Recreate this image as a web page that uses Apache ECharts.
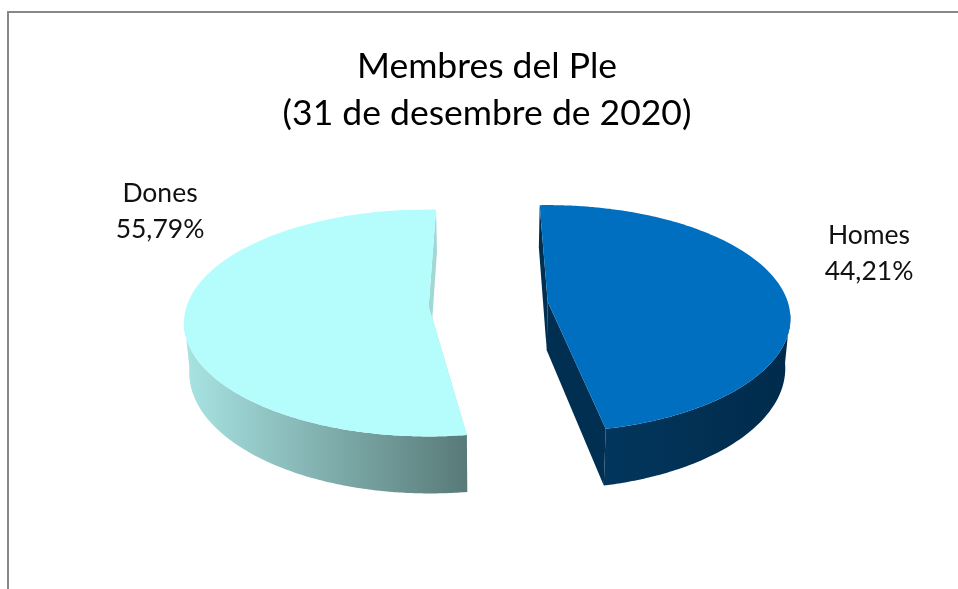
<!DOCTYPE html>
<html>
<head>
<meta charset="utf-8">
<style>html,body{margin:0;padding:0;background:#fff}#c{width:958px;height:589px}</style>
<script src="https://cdn.jsdelivr.net/npm/echarts@6/dist/echarts.min.js"></script>
</head>
<body>
<div id="c"></div>
<script>
const titleLines = ['Membres del Ple', '(31 de desembre de 2020)'];
const categories = ['Homes', 'Dones'];
const shareValues = [44.21, 55.79];
const shareLabels = ['44,21%', '55,79%'];

// Drawing style of each slice (3D look of the original)
const sliceStyle = [
  {apex: [547.7, 301.7], a: 240, tilt: -2.2, top: '#006fc0', cut: '#012f52', wall: ['#03365d', '#002b4b'], labelPos: [869, 253.5]},
  {apex: [428.7, 306], a: 242, tilt: 2, top: '#b5fdfd', cut: '#a0d8d6', wall: ['#a8e4e3', '#587a78'], labelPos: [160, 211]}
];
const proj = {b: 111, k: 0.149, depth: 48.5, squeeze: 0.45, vanishX: 490, shrink: 0.983};

function ring(theta, tilt) {
  // Warp of the angle around the pie caused by the original's 3D view
  let phi = Math.atan2(proj.squeeze * Math.sin(theta), Math.cos(theta));
  if (phi < -0.2) phi += 2 * Math.PI;
  if (theta > Math.PI * 1.9) phi = 2 * Math.PI;
  return phi + tilt * Math.PI / 180;
}
function project(st, u, v, lower) {
  const w = 1 - proj.k * v;
  let x = st.apex[0] + st.a * u / w;
  let y = st.apex[1] + proj.b * v / w;
  if (lower) {
    y += proj.depth / w;
    x = proj.vanishX + (x - proj.vanishX) * proj.shrink;
  }
  return [x, y];
}

function renderItem(params, api) {
  const i = params.dataIndex;
  const st = sliceStyle[i];
  const total = shareValues.reduce((s, d) => s + d, 0);
  let before = 0;
  for (let j = 0; j < i; j++) before += shareValues[j];
  const t0 = before / total * 2 * Math.PI;
  const t1 = t0 + api.value(0) / total * 2 * Math.PI;
  const steps = 180;
  const rim = [];
  for (let s = 0; s <= steps; s++) {
    const phi = ring(t0 + (t1 - t0) * s / steps, st.tilt);
    rim.push([Math.sin(phi), -Math.cos(phi)]);
  }
  const upper = rim.map(p => project(st, p[0], p[1], false));
  const lower = rim.map(p => project(st, p[0], p[1], true));
  const apexUp = project(st, 0, 0, false);
  const apexLow = project(st, 0, 0, true);
  const n = rim.length - 1;

  const poly = (points, fill) => ({type: 'polygon', shape: {points}, style: {fill, stroke: null}});
  const visU = [], visL = [];
  rim.forEach((p, s) => { if (p[1] > 0.1) { visU.push(upper[s]); visL.push(lower[s]); } });
  const grad = new echarts.graphic.LinearGradient(0, 0, 1, 0, [
    {offset: 0, color: st.wall[0]}, {offset: 1, color: st.wall[1]}
  ]);
  return {
    type: 'group',
    children: [
      poly([apexUp, upper[0], lower[0], apexLow], st.cut),
      poly([apexUp, upper[n], lower[n], apexLow], st.cut),
      poly(visU.concat(visL.reverse()), grad),
      poly([apexUp].concat(upper), st.top),
      {
        type: 'text',
        style: {
          x: st.labelPos[0], y: st.labelPos[1],
          text: categories[i] + '\n' + shareLabels[i],
          fill: '#111', font: '26.5px Lato', lineHeight: 36,
          align: 'center', verticalAlign: 'middle'
        }
      }
    ]
  };
}

const chart = echarts.init(document.getElementById('c'), null, {renderer: 'canvas'});
chart.setOption({
  animation: false,
  backgroundColor: '#fff',
  title: {
    text: titleLines.join('\n'),
    left: 482, top: 38, textAlign: 'center',
    textStyle: {fontFamily: 'Lato', fontWeight: 'normal', fontSize: 35.5, lineHeight: 47, color: '#000'}
  },
  graphic: [{
    type: 'polyline', silent: true,
    shape: {points: [[8, 589], [8, 12], [958, 12]]},
    style: {stroke: '#888', lineWidth: 2, fill: null}
  }],
  series: [{
    type: 'custom',
    coordinateSystem: 'none',
    renderItem,
    data: shareValues.map((v, i) => ({name: categories[i], value: [v]}))
  }]
});
</script>
</body>
</html>
